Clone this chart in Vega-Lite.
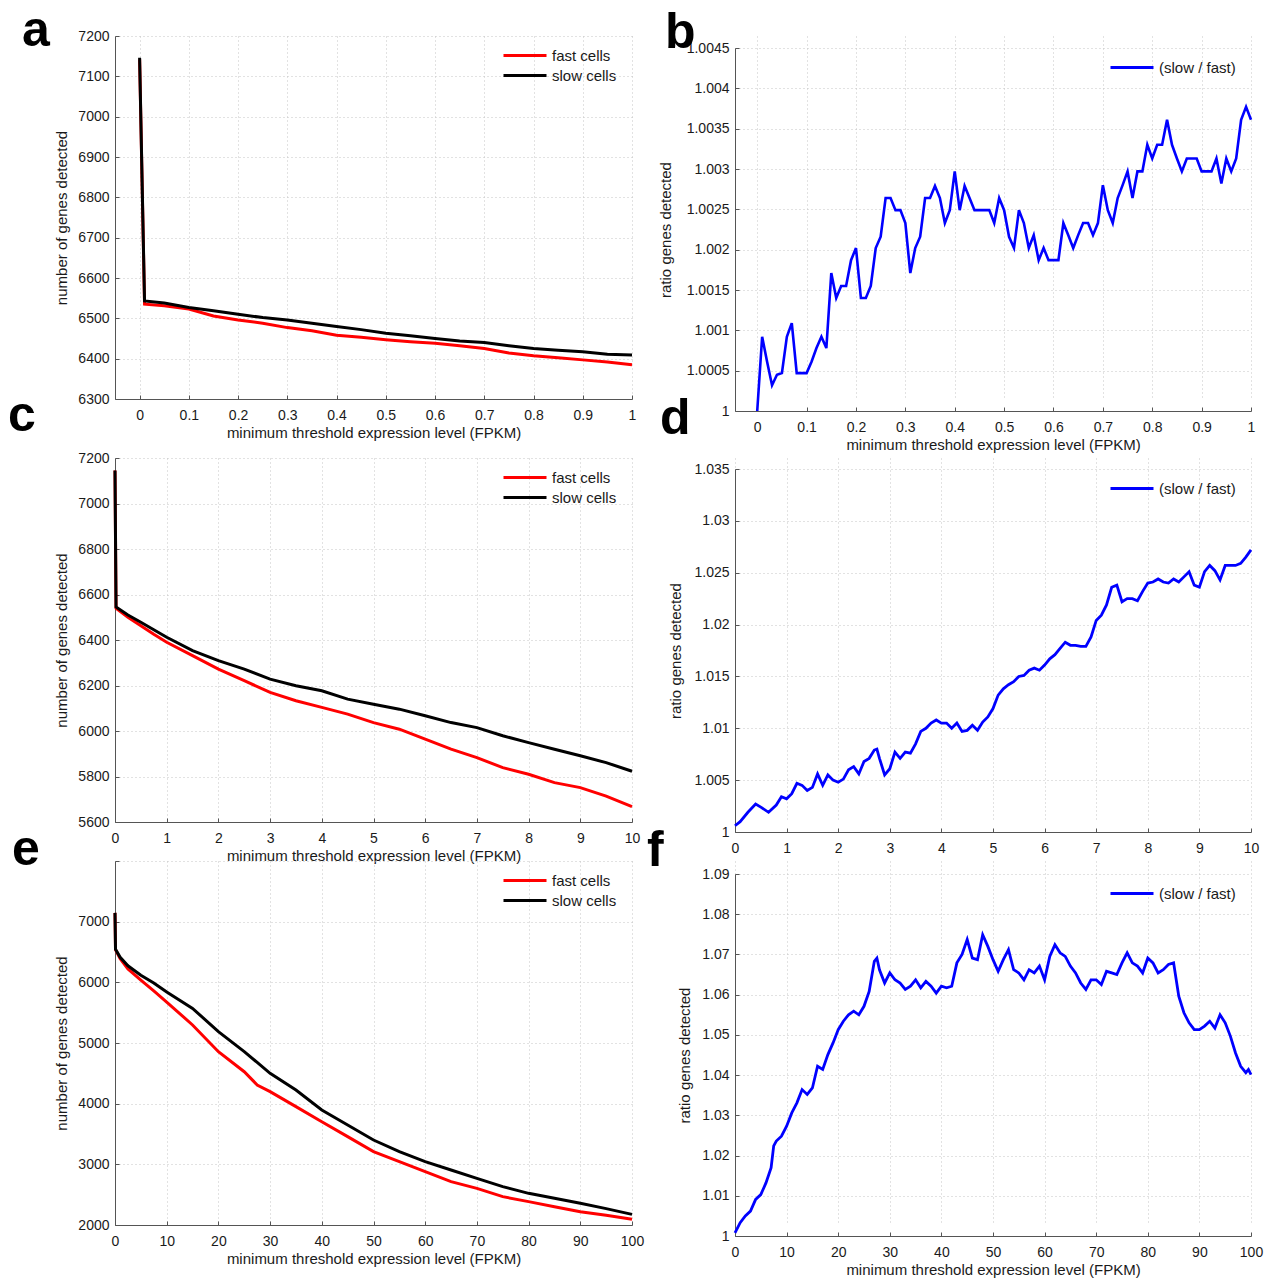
{
  "$schema": "https://vega.github.io/schema/vega-lite/v6.json",
  "background": "white",
  "padding": {"left": 8, "top": 6, "right": 5, "bottom": 5},
  "datasets": {
    "low": [
      {"t": 0, "fast cells": 7142, "slow cells": 7146},
      {"t": 0.01, "fast cells": 6535, "slow cells": 6543},
      {"t": 0.05, "fast cells": 6531, "slow cells": 6538},
      {"t": 0.1, "fast cells": 6523, "slow cells": 6527},
      {"t": 0.15, "fast cells": 6506, "slow cells": 6519},
      {"t": 0.2, "fast cells": 6496, "slow cells": 6510},
      {"t": 0.25, "fast cells": 6488, "slow cells": 6502},
      {"t": 0.3, "fast cells": 6477, "slow cells": 6496},
      {"t": 0.35, "fast cells": 6469, "slow cells": 6488},
      {"t": 0.4, "fast cells": 6458, "slow cells": 6480},
      {"t": 0.45, "fast cells": 6453, "slow cells": 6472},
      {"t": 0.5, "fast cells": 6447, "slow cells": 6463},
      {"t": 0.55, "fast cells": 6442, "slow cells": 6457},
      {"t": 0.6, "fast cells": 6438, "slow cells": 6450},
      {"t": 0.65, "fast cells": 6432, "slow cells": 6444},
      {"t": 0.7, "fast cells": 6425, "slow cells": 6440},
      {"t": 0.75, "fast cells": 6414, "slow cells": 6432},
      {"t": 0.8, "fast cells": 6407, "slow cells": 6425},
      {"t": 0.85, "fast cells": 6402, "slow cells": 6421},
      {"t": 0.9, "fast cells": 6397, "slow cells": 6417},
      {"t": 0.95, "fast cells": 6392, "slow cells": 6411},
      {"t": 1, "fast cells": 6385, "slow cells": 6409}
    ],
    "mid": [
      {"t": 0, "fast cells": 7145, "slow cells": 7145},
      {"t": 0.02, "fast cells": 6540, "slow cells": 6545},
      {"t": 0.25, "fast cells": 6500, "slow cells": 6510},
      {"t": 0.5, "fast cells": 6463, "slow cells": 6478},
      {"t": 0.75, "fast cells": 6425, "slow cells": 6445},
      {"t": 1, "fast cells": 6390, "slow cells": 6412},
      {"t": 1.5, "fast cells": 6331, "slow cells": 6353},
      {"t": 2, "fast cells": 6272, "slow cells": 6309},
      {"t": 2.5, "fast cells": 6221, "slow cells": 6272},
      {"t": 3, "fast cells": 6170, "slow cells": 6228},
      {"t": 3.5, "fast cells": 6133, "slow cells": 6199},
      {"t": 4, "fast cells": 6104, "slow cells": 6177},
      {"t": 4.5, "fast cells": 6074, "slow cells": 6140},
      {"t": 5, "fast cells": 6037, "slow cells": 6118},
      {"t": 5.5, "fast cells": 6008, "slow cells": 6096},
      {"t": 6, "fast cells": 5964, "slow cells": 6067},
      {"t": 6.5, "fast cells": 5920, "slow cells": 6037},
      {"t": 7, "fast cells": 5883, "slow cells": 6015},
      {"t": 7.5, "fast cells": 5839, "slow cells": 5979},
      {"t": 8, "fast cells": 5810, "slow cells": 5949},
      {"t": 8.5, "fast cells": 5773, "slow cells": 5920},
      {"t": 9, "fast cells": 5751, "slow cells": 5891},
      {"t": 9.5, "fast cells": 5714, "slow cells": 5861},
      {"t": 10, "fast cells": 5668, "slow cells": 5823}
    ],
    "high": [
      {"t": 0, "fast cells": 7145, "slow cells": 7145},
      {"t": 0.1, "fast cells": 6540, "slow cells": 6545},
      {"t": 1, "fast cells": 6390, "slow cells": 6412},
      {"t": 2.5, "fast cells": 6221, "slow cells": 6272},
      {"t": 5, "fast cells": 6037, "slow cells": 6118},
      {"t": 7.5, "fast cells": 5860, "slow cells": 5990},
      {"t": 10, "fast cells": 5675, "slow cells": 5840},
      {"t": 15, "fast cells": 5297, "slow cells": 5571},
      {"t": 20, "fast cells": 4857, "slow cells": 5187},
      {"t": 25, "fast cells": 4527, "slow cells": 4857},
      {"t": 27.5, "fast cells": 4308, "slow cells": 4680},
      {"t": 30, "fast cells": 4198, "slow cells": 4500},
      {"t": 35, "fast cells": 3951, "slow cells": 4225},
      {"t": 40, "fast cells": 3703, "slow cells": 3896},
      {"t": 45, "fast cells": 3456, "slow cells": 3648},
      {"t": 50, "fast cells": 3209, "slow cells": 3401},
      {"t": 55, "fast cells": 3044, "slow cells": 3209},
      {"t": 60, "fast cells": 2879, "slow cells": 3044},
      {"t": 65, "fast cells": 2714, "slow cells": 2907},
      {"t": 70, "fast cells": 2604, "slow cells": 2769},
      {"t": 75, "fast cells": 2467, "slow cells": 2632},
      {"t": 80, "fast cells": 2385, "slow cells": 2522},
      {"t": 85, "fast cells": 2302, "slow cells": 2440},
      {"t": 90, "fast cells": 2220, "slow cells": 2357},
      {"t": 95, "fast cells": 2160, "slow cells": 2270},
      {"t": 100, "fast cells": 2095, "slow cells": 2175}
    ],
    "ratioLow": [
      {"t": 0, "r": 1}, {"t": 0.01, "r": 1.00092}, {"t": 0.02, "r": 1.00061}, {"t": 0.03, "r": 1.00032},
      {"t": 0.04, "r": 1.00045}, {"t": 0.05, "r": 1.00047}, {"t": 0.06, "r": 1.00092}, {"t": 0.07, "r": 1.00109},
      {"t": 0.08, "r": 1.00047}, {"t": 0.09, "r": 1.00047}, {"t": 0.1, "r": 1.00047}, {"t": 0.11, "r": 1.00061},
      {"t": 0.12, "r": 1.00078}, {"t": 0.13, "r": 1.00092}, {"t": 0.14, "r": 1.00078}, {"t": 0.15, "r": 1.00171},
      {"t": 0.16, "r": 1.0014}, {"t": 0.17, "r": 1.00155}, {"t": 0.18, "r": 1.00155}, {"t": 0.19, "r": 1.00187},
      {"t": 0.2, "r": 1.00202}, {"t": 0.21, "r": 1.0014}, {"t": 0.22, "r": 1.0014}, {"t": 0.23, "r": 1.00155},
      {"t": 0.24, "r": 1.00202}, {"t": 0.25, "r": 1.00216}, {"t": 0.26, "r": 1.00264}, {"t": 0.27, "r": 1.00264},
      {"t": 0.28, "r": 1.00249}, {"t": 0.29, "r": 1.00249}, {"t": 0.3, "r": 1.00233}, {"t": 0.31, "r": 1.00171},
      {"t": 0.32, "r": 1.00202}, {"t": 0.33, "r": 1.00216}, {"t": 0.34, "r": 1.00264}, {"t": 0.35, "r": 1.00264},
      {"t": 0.36, "r": 1.00279}, {"t": 0.37, "r": 1.00264}, {"t": 0.38, "r": 1.00233}, {"t": 0.39, "r": 1.00249},
      {"t": 0.4, "r": 1.00297}, {"t": 0.41, "r": 1.00249}, {"t": 0.42, "r": 1.00279}, {"t": 0.43, "r": 1.00264},
      {"t": 0.44, "r": 1.00249}, {"t": 0.45, "r": 1.00249}, {"t": 0.46, "r": 1.00249}, {"t": 0.47, "r": 1.00249},
      {"t": 0.48, "r": 1.00233}, {"t": 0.49, "r": 1.00264}, {"t": 0.5, "r": 1.00249}, {"t": 0.51, "r": 1.00216},
      {"t": 0.52, "r": 1.00202}, {"t": 0.53, "r": 1.00249}, {"t": 0.54, "r": 1.00233}, {"t": 0.55, "r": 1.00202},
      {"t": 0.56, "r": 1.00218}, {"t": 0.57, "r": 1.00187}, {"t": 0.58, "r": 1.00202}, {"t": 0.59, "r": 1.00187},
      {"t": 0.6, "r": 1.00187}, {"t": 0.61, "r": 1.00187}, {"t": 0.62, "r": 1.00233}, {"t": 0.63, "r": 1.00218},
      {"t": 0.64, "r": 1.00202}, {"t": 0.65, "r": 1.00218}, {"t": 0.66, "r": 1.00233}, {"t": 0.67, "r": 1.00233},
      {"t": 0.68, "r": 1.00218}, {"t": 0.69, "r": 1.00233}, {"t": 0.7, "r": 1.0028}, {"t": 0.71, "r": 1.00249},
      {"t": 0.72, "r": 1.00233}, {"t": 0.73, "r": 1.00264}, {"t": 0.74, "r": 1.0028}, {"t": 0.75, "r": 1.00297},
      {"t": 0.76, "r": 1.00264}, {"t": 0.77, "r": 1.00297}, {"t": 0.78, "r": 1.00297}, {"t": 0.79, "r": 1.0033},
      {"t": 0.8, "r": 1.00313}, {"t": 0.81, "r": 1.0033}, {"t": 0.82, "r": 1.0033}, {"t": 0.83, "r": 1.00361},
      {"t": 0.84, "r": 1.0033}, {"t": 0.85, "r": 1.00313}, {"t": 0.86, "r": 1.00297}, {"t": 0.87, "r": 1.00313},
      {"t": 0.88, "r": 1.00313}, {"t": 0.89, "r": 1.00313}, {"t": 0.9, "r": 1.00297}, {"t": 0.91, "r": 1.00297},
      {"t": 0.92, "r": 1.00297}, {"t": 0.93, "r": 1.00313}, {"t": 0.94, "r": 1.00282}, {"t": 0.95, "r": 1.00313},
      {"t": 0.96, "r": 1.00297}, {"t": 0.97, "r": 1.00313}, {"t": 0.98, "r": 1.00361}, {"t": 0.99, "r": 1.00377},
      {"t": 1, "r": 1.00361}
    ],
    "ratioMid": [
      {"t": 0, "r": 1.0006}, {"t": 0.1, "r": 1.001}, {"t": 0.25, "r": 1.0019}, {"t": 0.4, "r": 1.0027},
      {"t": 0.5, "r": 1.0024}, {"t": 0.65, "r": 1.0019}, {"t": 0.8, "r": 1.0026}, {"t": 0.9, "r": 1.0034},
      {"t": 1, "r": 1.0032}, {"t": 1.1, "r": 1.0037}, {"t": 1.2, "r": 1.0047}, {"t": 1.3, "r": 1.0045},
      {"t": 1.4, "r": 1.004}, {"t": 1.5, "r": 1.0043}, {"t": 1.6, "r": 1.0056}, {"t": 1.7, "r": 1.0045},
      {"t": 1.8, "r": 1.0055}, {"t": 1.9, "r": 1.005}, {"t": 2, "r": 1.0048}, {"t": 2.1, "r": 1.0051},
      {"t": 2.2, "r": 1.006}, {"t": 2.3, "r": 1.0063}, {"t": 2.4, "r": 1.0056}, {"t": 2.5, "r": 1.0068},
      {"t": 2.6, "r": 1.0071}, {"t": 2.7, "r": 1.0079}, {"t": 2.75, "r": 1.008}, {"t": 2.8, "r": 1.0071},
      {"t": 2.9, "r": 1.0055}, {"t": 3, "r": 1.0061}, {"t": 3.1, "r": 1.0077}, {"t": 3.2, "r": 1.0071},
      {"t": 3.3, "r": 1.0077}, {"t": 3.4, "r": 1.0076}, {"t": 3.5, "r": 1.0085}, {"t": 3.6, "r": 1.0097},
      {"t": 3.7, "r": 1.01}, {"t": 3.8, "r": 1.0105}, {"t": 3.9, "r": 1.0108}, {"t": 4, "r": 1.0105},
      {"t": 4.1, "r": 1.0105}, {"t": 4.2, "r": 1.01}, {"t": 4.3, "r": 1.0105}, {"t": 4.4, "r": 1.0097},
      {"t": 4.5, "r": 1.0098}, {"t": 4.6, "r": 1.0103}, {"t": 4.7, "r": 1.0098}, {"t": 4.8, "r": 1.0106},
      {"t": 4.9, "r": 1.0111}, {"t": 5, "r": 1.0119}, {"t": 5.1, "r": 1.0132}, {"t": 5.2, "r": 1.0138},
      {"t": 5.3, "r": 1.0142}, {"t": 5.4, "r": 1.0145}, {"t": 5.5, "r": 1.015}, {"t": 5.6, "r": 1.0151},
      {"t": 5.7, "r": 1.0156}, {"t": 5.8, "r": 1.0158}, {"t": 5.9, "r": 1.0156}, {"t": 6, "r": 1.0161},
      {"t": 6.1, "r": 1.0167}, {"t": 6.2, "r": 1.0171}, {"t": 6.3, "r": 1.0177}, {"t": 6.4, "r": 1.0183},
      {"t": 6.5, "r": 1.018}, {"t": 6.6, "r": 1.018}, {"t": 6.7, "r": 1.0179}, {"t": 6.8, "r": 1.0179},
      {"t": 6.9, "r": 1.0188}, {"t": 7, "r": 1.0204}, {"t": 7.1, "r": 1.0209}, {"t": 7.2, "r": 1.0219},
      {"t": 7.3, "r": 1.0236}, {"t": 7.4, "r": 1.0238}, {"t": 7.5, "r": 1.0222}, {"t": 7.6, "r": 1.0225},
      {"t": 7.7, "r": 1.0225}, {"t": 7.8, "r": 1.0223}, {"t": 7.9, "r": 1.0232}, {"t": 8, "r": 1.024},
      {"t": 8.1, "r": 1.0241}, {"t": 8.2, "r": 1.0244}, {"t": 8.3, "r": 1.0241}, {"t": 8.4, "r": 1.024},
      {"t": 8.5, "r": 1.0244}, {"t": 8.6, "r": 1.0241}, {"t": 8.7, "r": 1.0246}, {"t": 8.8, "r": 1.0251},
      {"t": 8.9, "r": 1.0238}, {"t": 9, "r": 1.0236}, {"t": 9.1, "r": 1.0251}, {"t": 9.2, "r": 1.0257},
      {"t": 9.3, "r": 1.0252}, {"t": 9.4, "r": 1.0243}, {"t": 9.5, "r": 1.0257}, {"t": 9.6, "r": 1.0257},
      {"t": 9.7, "r": 1.0257}, {"t": 9.8, "r": 1.0259}, {"t": 9.9, "r": 1.0265}, {"t": 10, "r": 1.0272}
    ],
    "ratioHigh": [
      {"t": 0, "r": 1.0008}, {"t": 1, "r": 1.0033}, {"t": 2, "r": 1.005}, {"t": 3, "r": 1.0062},
      {"t": 4, "r": 1.0091}, {"t": 5, "r": 1.0103}, {"t": 6, "r": 1.0132}, {"t": 7, "r": 1.017},
      {"t": 7.5, "r": 1.0224}, {"t": 8, "r": 1.0236}, {"t": 9, "r": 1.0248}, {"t": 10, "r": 1.0273},
      {"t": 11, "r": 1.0306}, {"t": 12, "r": 1.0331}, {"t": 13, "r": 1.0364}, {"t": 14, "r": 1.0352},
      {"t": 15, "r": 1.0368}, {"t": 16, "r": 1.0422}, {"t": 17, "r": 1.0414}, {"t": 18, "r": 1.0451},
      {"t": 19, "r": 1.048}, {"t": 20, "r": 1.0513}, {"t": 21, "r": 1.0534}, {"t": 22, "r": 1.055},
      {"t": 23, "r": 1.0559}, {"t": 24, "r": 1.055}, {"t": 25, "r": 1.0571}, {"t": 26, "r": 1.0608},
      {"t": 27, "r": 1.0683}, {"t": 27.5, "r": 1.0691}, {"t": 28, "r": 1.0662}, {"t": 29, "r": 1.0629},
      {"t": 30, "r": 1.0654}, {"t": 31, "r": 1.0637}, {"t": 32, "r": 1.0629}, {"t": 33, "r": 1.0613},
      {"t": 34, "r": 1.0621}, {"t": 35, "r": 1.0637}, {"t": 36, "r": 1.0617}, {"t": 37, "r": 1.0633},
      {"t": 38, "r": 1.0621}, {"t": 39, "r": 1.0604}, {"t": 40, "r": 1.0621}, {"t": 41, "r": 1.0617},
      {"t": 42, "r": 1.0621}, {"t": 43, "r": 1.0679}, {"t": 44, "r": 1.07}, {"t": 45, "r": 1.0737},
      {"t": 46, "r": 1.0691}, {"t": 47, "r": 1.0687}, {"t": 48, "r": 1.0749}, {"t": 49, "r": 1.072},
      {"t": 50, "r": 1.0687}, {"t": 51, "r": 1.0658}, {"t": 52, "r": 1.0687}, {"t": 53, "r": 1.0712},
      {"t": 54, "r": 1.0662}, {"t": 55, "r": 1.0654}, {"t": 56, "r": 1.0637}, {"t": 57, "r": 1.0662},
      {"t": 58, "r": 1.0654}, {"t": 59, "r": 1.0671}, {"t": 60, "r": 1.0637}, {"t": 61, "r": 1.0695},
      {"t": 62, "r": 1.0724}, {"t": 63, "r": 1.0704}, {"t": 64, "r": 1.0695}, {"t": 65, "r": 1.0671},
      {"t": 66, "r": 1.0654}, {"t": 67, "r": 1.0629}, {"t": 68, "r": 1.0613}, {"t": 69, "r": 1.0637},
      {"t": 70, "r": 1.0637}, {"t": 71, "r": 1.0625}, {"t": 72, "r": 1.0658}, {"t": 73, "r": 1.0654},
      {"t": 74, "r": 1.065}, {"t": 75, "r": 1.0679}, {"t": 76, "r": 1.0704}, {"t": 77, "r": 1.0679},
      {"t": 78, "r": 1.0671}, {"t": 79, "r": 1.0654}, {"t": 80, "r": 1.0691}, {"t": 81, "r": 1.0679},
      {"t": 82, "r": 1.0654}, {"t": 83, "r": 1.0662}, {"t": 84, "r": 1.0675}, {"t": 85, "r": 1.0679},
      {"t": 86, "r": 1.0596}, {"t": 87, "r": 1.0555}, {"t": 88, "r": 1.053}, {"t": 89, "r": 1.0513},
      {"t": 90, "r": 1.0513}, {"t": 91, "r": 1.0522}, {"t": 92, "r": 1.0534}, {"t": 93, "r": 1.0517},
      {"t": 94, "r": 1.055}, {"t": 95, "r": 1.053}, {"t": 96, "r": 1.0497}, {"t": 97, "r": 1.0455},
      {"t": 98, "r": 1.0422}, {"t": 99, "r": 1.0406}, {"t": 99.5, "r": 1.0414}, {"t": 100, "r": 1.0401}
    ]
  },
  "columns": 2,
  "bounds": "flush",
  "spacing": {"row": 0, "column": 103},
  "resolve": {
    "scale": {"x": "independent", "y": "independent", "color": "independent"},
    "axis": {"x": "independent", "y": "independent"},
    "legend": {"color": "independent"}
  },
  "concat": [
    {
      "width": 517, "height": 363,
      "title": {"text": "a", "dx": -93, "dy": 31},
      "data": {"name": "low"},
      "transform": [{"fold": ["fast cells", "slow cells"], "as": ["cells", "genes"]}],
      "mark": {"type": "line", "strokeWidth": 3},
      "encoding": {
        "x": {"field": "t", "type": "quantitative", "scale": {"domain": [-0.05, 1], "nice": false, "zero": false},
              "axis": {"values": [0, 0.1, 0.2, 0.3, 0.4, 0.5, 0.6, 0.7, 0.8, 0.9, 1], "format": "~r", "title": "minimum threshold expression level (FPKM)"}},
        "y": {"field": "genes", "type": "quantitative", "scale": {"domain": [6300, 7200], "nice": false, "zero": false},
              "axis": {"values": [6300, 6400, 6500, 6600, 6700, 6800, 6900, 7000, 7100, 7200], "format": "d", "title": "number of genes detected", "titlePadding": 8}},
        "color": {"field": "cells", "type": "nominal", "scale": {"domain": ["fast cells", "slow cells"], "range": ["#ff0000", "#000000"]},
                  "legend": {"title": null, "legendX": 400, "legendY": 9.5}}
      }
    },
    {
      "width": 516, "height": 375,
      "title": {"text": "b", "dx": -70, "dy": 26},
      "data": {"name": "ratioLow"},
      "mark": {"type": "line", "strokeWidth": 2.6},
      "encoding": {
        "x": {"field": "t", "type": "quantitative", "scale": {"domain": [-0.045, 1], "nice": false, "zero": false},
              "axis": {"values": [0, 0.1, 0.2, 0.3, 0.4, 0.5, 0.6, 0.7, 0.8, 0.9, 1], "format": "~r", "title": "minimum threshold expression level (FPKM)"}},
        "y": {"field": "r", "type": "quantitative", "scale": {"domain": [1, 1.0045], "nice": false, "zero": false, "range": [375, 12]},
              "axis": {"values": [1, 1.0005, 1.001, 1.0015, 1.002, 1.0025, 1.003, 1.0035, 1.004, 1.0045], "format": "~r", "title": "ratio genes detected", "titlePadding": 13}},
        "color": {"datum": "(slow / fast)", "type": "nominal", "scale": {"range": ["#0000ff"]},
                  "legend": {"title": null, "legendX": 387, "legendY": 21.5}}
      }
    },
    {"width": 517, "height": 47, "data": {"values": [{}]}, "mark": {"type": "text"}, "encoding": {"text": {"value": ""}}},
    {"width": 516, "height": 47, "data": {"values": [{}]}, "mark": {"type": "text"}, "encoding": {"text": {"value": ""}}},
    {
      "width": 517, "height": 364,
      "title": {"text": "c", "dx": -107, "dy": -6},
      "data": {"name": "mid"},
      "transform": [{"fold": ["fast cells", "slow cells"], "as": ["cells", "genes"]}],
      "mark": {"type": "line", "strokeWidth": 3},
      "encoding": {
        "x": {"field": "t", "type": "quantitative", "scale": {"domain": [0, 10], "nice": false},
              "axis": {"values": [0, 1, 2, 3, 4, 5, 6, 7, 8, 9, 10], "format": "~r", "title": "minimum threshold expression level (FPKM)"}},
        "y": {"field": "genes", "type": "quantitative", "scale": {"domain": [5600, 7200], "nice": false, "zero": false},
              "axis": {"values": [5600, 5800, 6000, 6200, 6400, 6600, 6800, 7000, 7200], "format": "d", "title": "number of genes detected", "titlePadding": 8}},
        "color": {"field": "cells", "type": "nominal", "scale": {"domain": ["fast cells", "slow cells"], "range": ["#ff0000", "#000000"]},
                  "legend": {"title": null, "legendX": 400, "legendY": 9.5}}
      }
    },
    {
      "width": 516, "height": 374,
      "title": {"text": "d", "dx": -75, "dy": -10},
      "data": {"name": "ratioMid"},
      "mark": {"type": "line", "strokeWidth": 2.8},
      "encoding": {
        "x": {"field": "t", "type": "quantitative", "scale": {"domain": [0, 10], "nice": false},
              "axis": {"values": [0, 1, 2, 3, 4, 5, 6, 7, 8, 9, 10], "format": "~r", "title": null}},
        "y": {"field": "r", "type": "quantitative", "scale": {"domain": [1, 1.035], "nice": false, "zero": false, "range": [374, 11]},
              "axis": {"values": [1, 1.005, 1.01, 1.015, 1.02, 1.025, 1.03, 1.035], "format": "~r", "title": "ratio genes detected", "titlePadding": 10}},
        "color": {"datum": "(slow / fast)", "type": "nominal", "scale": {"range": ["#0000ff"]},
                  "legend": {"title": null, "legendX": 387, "legendY": 20.5}}
      }
    },
    {"width": 517, "height": 29, "data": {"values": [{}]}, "mark": {"type": "text"}, "encoding": {"text": {"value": ""}}},
    {"width": 516, "height": 29, "data": {"values": [{}]}, "mark": {"type": "text"}, "encoding": {"text": {"value": ""}}},
    {
      "width": 517, "height": 364,
      "title": {"text": "e", "dx": -103, "dy": 18},
      "data": {"name": "high"},
      "transform": [{"fold": ["fast cells", "slow cells"], "as": ["cells", "genes"]}],
      "mark": {"type": "line", "strokeWidth": 3},
      "encoding": {
        "x": {"field": "t", "type": "quantitative", "scale": {"domain": [0, 100], "nice": false},
              "axis": {"values": [0, 10, 20, 30, 40, 50, 60, 70, 80, 90, 100], "format": "~r", "title": "minimum threshold expression level (FPKM)"}},
        "y": {"field": "genes", "type": "quantitative", "scale": {"domain": [2000, 8000], "nice": false, "zero": false},
              "axis": {"values": [2000, 3000, 4000, 5000, 6000, 7000, 8000], "format": "d", "labelExpr": "datum.value == 8000 ? '' : datum.label", "title": "number of genes detected", "titlePadding": 8}},
        "color": {"field": "cells", "type": "nominal", "scale": {"domain": ["fast cells", "slow cells"], "range": ["#ff0000", "#000000"]},
                  "legend": {"title": null, "legendX": 400, "legendY": 9.5}}
      }
    },
    {
      "width": 516, "height": 375,
      "title": {"text": "f", "dx": -88, "dy": 19},
      "data": {"name": "ratioHigh"},
      "mark": {"type": "line", "strokeWidth": 2.8},
      "encoding": {
        "x": {"field": "t", "type": "quantitative", "scale": {"domain": [0, 100], "nice": false},
              "axis": {"values": [0, 10, 20, 30, 40, 50, 60, 70, 80, 90, 100], "format": "~r", "title": "minimum threshold expression level (FPKM)"}},
        "y": {"field": "r", "type": "quantitative", "scale": {"domain": [1, 1.09], "nice": false, "zero": false, "range": [375, 13]},
              "axis": {"values": [1, 1.01, 1.02, 1.03, 1.04, 1.05, 1.06, 1.07, 1.08, 1.09], "format": "~r", "title": "ratio genes detected", "titlePadding": 9}},
        "color": {"datum": "(slow / fast)", "type": "nominal", "scale": {"range": ["#0000ff"]},
                  "legend": {"title": null, "legendX": 387, "legendY": 22.5}}
      }
    }
  ],
  "config": {
    "view": {"stroke": null},
    "font": "Liberation Sans",
    "axis": {
      "domainColor": "#555555", "domainWidth": 1,
      "tickColor": "#555555", "tickSize": -4, "tickWidth": 1,
      "labelFont": "Liberation Sans", "labelFontSize": 14, "labelColor": "#1a1a1a",
      "titleFont": "Liberation Sans", "titleFontSize": 15, "titleFontWeight": "normal", "titleColor": "#1a1a1a",
      "gridColor": "#c4c4c4", "gridDash": [1, 3], "gridWidth": 1
    },
    "axisX": {"labelPadding": 13, "titlePadding": 3, "labelFlush": false},
    "axisY": {"labelPadding": 10},
    "legend": {
      "orient": "none", "padding": 0, "rowPadding": 2,
      "symbolType": "M-2.53,0H2.53", "symbolSize": 289, "symbolStrokeWidth": 3,
      "labelFont": "Liberation Sans", "labelFontSize": 15, "labelColor": "#1a1a1a", "labelOffset": 17
    },
    "title": {
      "font": "Liberation Sans", "fontSize": 50, "fontWeight": "bold", "color": "#000000",
      "anchor": "start", "frame": "group", "baseline": "alphabetic", "offset": 0
    }
  }
}
